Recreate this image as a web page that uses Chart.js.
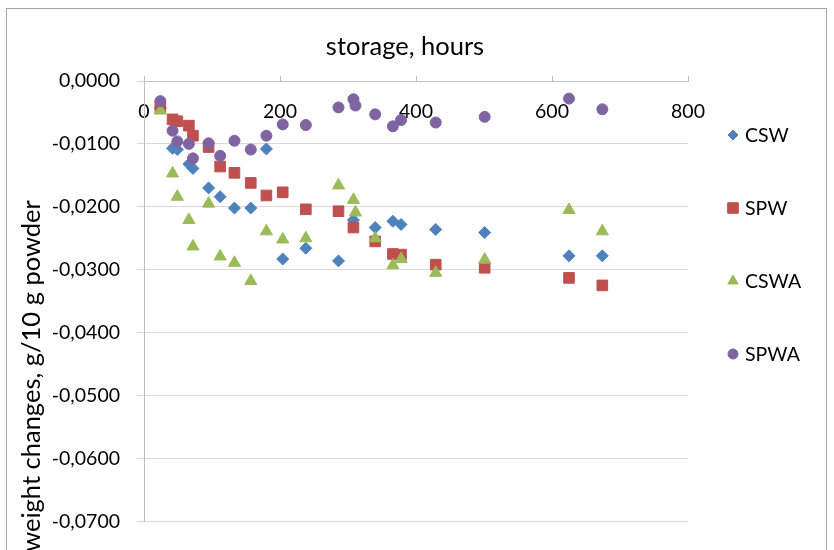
<!DOCTYPE html>
<html lang="en">
<head>
    <meta charset="UTF-8">
    <title>Weight changes during storage</title>
    <style>
        * { margin: 0; padding: 0; box-sizing: border-box; }
        body { background: #ffffff; width: 834px; height: 550px; overflow: hidden; position: relative; }
        .frame {
            position: absolute; left: 6px; top: 8px; width: 821px; height: 620px;
            border: 1px solid #a6a6a6;
        }
        .chart-box { position: absolute; left: 0; top: 0; width: 834px; height: 550px; }
    </style>
</head>
<body>
    <div class="frame"></div>
    <div class="chart-box"><canvas id="weightChart"></canvas></div>
    <script src="https://cdn.jsdelivr.net/npm/chart.js"></script>
    <script>
        // storage time, hours (shared by all four samples)
        const hours = [24, 42, 49, 66, 72, 95, 112, 133, 157, 180, 204, 238, 286, 308, 340, 366, 378, 429, 501, 625, 674];

        // weight changes, g/10 g powder
        const csw  = [-0.0043, -0.0107, -0.0109, -0.0132, -0.0139, -0.0170, -0.0184, -0.0202, -0.0202, -0.0108, -0.0283,
                      -0.0266, -0.0286, -0.0221, -0.0233, -0.0223, -0.0228, -0.0236, -0.0241, -0.0278, -0.0278];
        const spw  = [-0.0042, -0.0061, -0.0064, -0.0071, -0.0087, -0.0105, -0.0136, -0.0146, -0.0162, -0.0182, -0.0177,
                      -0.0204, -0.0207, -0.0233, -0.0255, -0.0275, -0.0276, -0.0292, -0.0297, -0.0313, -0.0325];
        const cswa = [-0.0047, -0.0147, -0.0184, -0.0221, -0.0263, -0.0195, -0.0279, -0.0289, -0.0318, -0.0239, -0.0252,
                      -0.0250, -0.0166, -0.0189, -0.0250, -0.0293, -0.0283, -0.0305, -0.0284, -0.0205, -0.0239];
        const spwa = [-0.0032, -0.0079, -0.0096, -0.0100, -0.0123, -0.0099, -0.0119, -0.0095, -0.0109, -0.0087, -0.0069,
                      -0.0070, -0.0042, -0.0029, -0.0053, -0.0072, -0.0062, -0.0066, -0.0057, -0.0028, -0.0045];

        // one extra reading near 311 h for the A samples
        const extraHours = [311];
        const cswaExtra = [-0.0209];
        const spwaExtra = [-0.0039];

        const xTicks = [0, 200, 400, 600, 800];
        const yTicks = [0, -0.01, -0.02, -0.03, -0.04, -0.05, -0.06, -0.07];

        const labels = ['CSW', 'SPW', 'CSWA', 'SPWA'];
        const colors = ['#4f81bd', '#c0504d', '#9bbb59', '#8064a2'];
        const styles = ['rectRot', 'rect', 'triangle', 'circle'];
        const radii = [6, 7.5, 7, 5.5];
        const legendRadii = [5, 7.5, 6, 5];

        function toPoints(xs, ys) {
            return xs.map((x, i) => ({ x: x, y: ys[i] }));
        }

        const seriesData = [
            toPoints(hours, csw),
            toPoints(hours, spw),
            toPoints(hours, cswa).concat(toPoints(extraHours, cswaExtra)),
            toPoints(hours, spwa).concat(toPoints(extraHours, spwaExtra))
        ];

        const fmt = v => Number(v).toFixed(4).replace('.', ',');

        // axis titles and the legend, placed like the spreadsheet original
        const decorations = {
            id: 'decorations',
            afterDraw(chart) {
                const ctx = chart.ctx;
                ctx.save();
                ctx.fillStyle = '#000';
                ctx.font = '25.5px Lato';
                ctx.textAlign = 'center';
                ctx.textBaseline = 'middle';
                ctx.fillText('storage, hours', 405, 47);

                ctx.translate(32, 376);
                ctx.rotate(-Math.PI / 2);
                ctx.fillText('weight changes, g/10 g powder', 0, 0);
                ctx.restore();

                ctx.save();
                ctx.font = '19.5px Lato';
                ctx.textAlign = 'left';
                ctx.textBaseline = 'middle';
                labels.forEach((name, i) => {
                    const y = 135 + i * 73;
                    ctx.fillStyle = colors[i];
                    ctx.strokeStyle = colors[i];
                    Chart.helpers.drawPoint(ctx, { pointStyle: styles[i], radius: legendRadii[i], rotation: 0, borderWidth: 1 }, 733, y);
                    ctx.fillStyle = '#000';
                    ctx.fillText(name, 745, y + 1);
                });
                ctx.restore();
            }
        };

        Chart.defaults.font.family = 'Lato';
        Chart.defaults.color = '#000';

        const ctx = document.getElementById('weightChart').getContext('2d');
        new Chart(ctx, {
            type: 'scatter',
            data: {
                datasets: labels.map((name, i) => ({
                    label: name,
                    data: seriesData[i],
                    pointStyle: styles[i],
                    pointRadius: radii[i],
                    pointHoverRadius: radii[i],
                    backgroundColor: colors[i],
                    borderColor: colors[i],
                    borderWidth: 1,
                    order: 3 - i
                }))
            },
            options: {
                responsive: true,
                maintainAspectRatio: false,
                animation: false,
                layout: { padding: { left: 0, right: 146, top: 0, bottom: 25 } },
                scales: {
                    x: {
                        type: 'linear',
                        position: 'top',
                        min: 0,
                        max: 800,
                        afterFit: s => { s.height = 81; },
                        afterBuildTicks: s => { s.ticks = xTicks.map(v => ({ value: v })); },
                        // mirrored: labels sit under the top axis line, as in the original
                        ticks: { padding: 19, mirror: true, font: { size: 19.5 }, color: '#000', maxRotation: 0 },
                        grid: { drawOnChartArea: false, drawTicks: true, tickLength: 5, color: '#bfbfbf' },
                        border: { display: true, color: '#bfbfbf' }
                    },
                    y: {
                        type: 'linear',
                        min: -0.07,
                        max: 0,
                        afterFit: s => { s.width = 144; },
                        afterBuildTicks: s => { s.ticks = yTicks.map(v => ({ value: v })); },
                        ticks: { padding: 17, font: { size: 19.5 }, color: '#000', callback: fmt },
                        grid: { color: '#d9d9d9', drawTicks: true, tickLength: 7 },
                        border: { display: true, color: '#bfbfbf' }
                    }
                },
                plugins: {
                    legend: { display: false },
                    title: { display: false },
                    tooltip: { enabled: false }
                }
            },
            plugins: [decorations]
        });
    </script>
</body>
</html>
